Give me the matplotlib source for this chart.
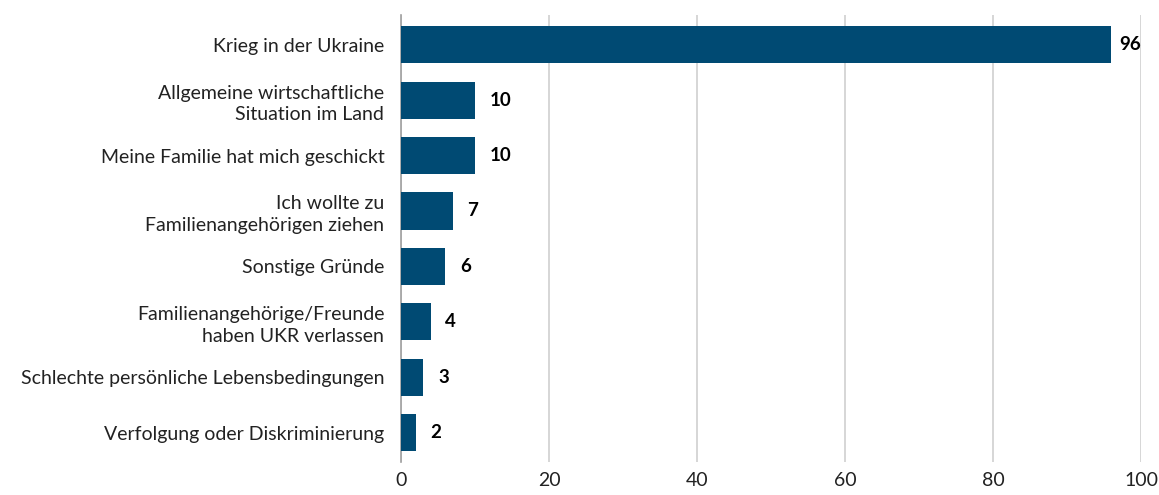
import matplotlib.pyplot as plt

# Daten
labels = ['Krieg in der Ukraine',
          'Allgemeine wirtschaftliche\nSituation im Land',
          'Meine Familie hat mich geschickt',
          'Ich wollte zu\nFamilienangehörigen ziehen',
          'Sonstige Gründe',
          'Familienangehörige/Freunde\nhaben UKR verlassen',
          'Schlechte persönliche Lebensbedingungen',
          'Verfolgung oder Diskriminierung']
values = [96, 10, 10, 7, 6, 4, 3, 2]
xticks = [0, 20, 40, 60, 80, 100]

plt.rcParams['font.family'] = ['Lato', 'DejaVu Sans']

fig = plt.figure(figsize=(11.59, 4.95), dpi=100)
ax = fig.add_axes([0.346, 0.0667, 0.6385, 0.9033])

pos = list(range(len(labels)))
ax.barh(pos, values, height=0.67, color='#004a73', zorder=3)
for p, v in zip(pos, values):
    # Beschriftung rechts neben dem Balken, am Rand etwas enger
    ax.text(min(v + 2.0, 97.0), p, str(v), va='center', ha='left',
            fontsize=13.5, fontweight='bold', color='black')

ax.set_yticks(pos)
ax.set_yticklabels(labels, fontsize=14, color='#222222', linespacing=1.3)
ax.set_ylim(7.53, -0.54)
ax.set_xlim(0, 100)
ax.set_xticks(xticks)
ax.set_xticklabels([str(t) for t in xticks], fontsize=14, color='#222222')
ax.tick_params(axis='both', length=0)
ax.tick_params(axis='y', pad=12)
ax.tick_params(axis='x', pad=7)
ax.grid(axis='x', color='#d0d0d0', lw=1.2, zorder=0)
for s in ['top', 'right', 'bottom']:
    ax.spines[s].set_visible(False)
ax.spines['left'].set_color('#a0a0a0')
ax.spines['left'].set_linewidth(1.2)

plt.savefig('out.png', dpi=100)
